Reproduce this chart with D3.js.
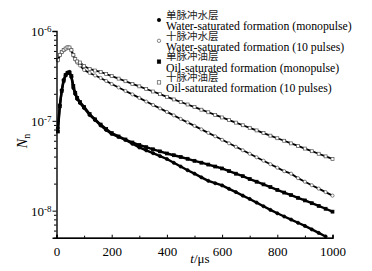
<!DOCTYPE html>
<html>
<head>
<meta charset="utf-8">
<script src="https://cdn.jsdelivr.net/npm/d3@7"></script>
<style>
body { margin:0; background:#fff; }
svg { display:block; }
.axis path, .axis line { stroke:#000; }
.axis text { font-family:"Liberation Serif","Times New Roman",serif; font-size:13px; fill:#000; }
</style>
</head>
<body>
<div id="chart"></div>
<script>
// time axis (us), same for all four curves
var times = [5,12,19,26,33,40,47,54,61,68,75,85,100,120,140,160,180,
  200,225,250,275,300,325,350,375,400,425,450,475,500,525,550,575,600,
  625,650,675,700,725,750,775,800,825,850,875,900,925,950,975,1000];

// 单脉冲水层 (filled circles)
var waterMono = [8.3e-8,1.50e-7,2.20e-7,2.85e-7,3.20e-7,3.45e-7,3.50e-7,3.08e-7,2.32e-7,1.99e-7,1.75e-7,1.58e-7,1.39e-7,1.16e-7,1.02e-7,8.88e-8,7.91e-8,
  7.14e-8,6.61e-8,6.12e-8,5.55e-8,5.05e-8,4.69e-8,4.36e-8,4.05e-8,3.76e-8,3.41e-8,3.10e-8,2.82e-8,2.58e-8,2.35e-8,2.15e-8,2.02e-8,1.91e-8,
  1.75e-8,1.61e-8,1.47e-8,1.35e-8,1.23e-8,1.12e-8,1.02e-8,9.35e-9,8.61e-9,7.96e-9,7.33e-9,6.76e-9,6.18e-9,5.65e-9,5.16e-9,null];

// 十脉冲水层 (open circles)
var water10 = [4.70e-7,5.35e-7,5.80e-7,6.10e-7,6.35e-7,6.55e-7,6.50e-7,6.05e-7,5.32e-7,4.80e-7,4.45e-7,4.13e-7,3.68e-7,3.41e-7,3.20e-7,3.00e-7,2.78e-7,
  2.57e-7,2.35e-7,2.15e-7,1.97e-7,1.80e-7,1.64e-7,1.50e-7,1.375e-7,1.257e-7,1.15e-7,1.05e-7,9.62e-8,8.79e-8,8.04e-8,7.35e-8,6.73e-8,6.15e-8,
  5.62e-8,5.14e-8,4.70e-8,4.30e-8,3.93e-8,3.60e-8,3.29e-8,3.01e-8,2.75e-8,2.58e-8,2.30e-8,2.10e-8,1.92e-8,1.76e-8,1.61e-8,1.47e-8];

// 单脉冲油层 (filled squares)
var oilMono = [7.6e-8,1.45e-7,2.15e-7,2.80e-7,3.25e-7,3.40e-7,3.45e-7,3.15e-7,2.45e-7,2.05e-7,1.80e-7,1.62e-7,1.43e-7,1.19e-7,1.04e-7,9.1e-8,8.1e-8,
  7.3e-8,6.7e-8,6.2e-8,5.74e-8,5.38e-8,5.09e-8,4.82e-8,4.57e-8,4.33e-8,4.14e-8,3.96e-8,3.78e-8,3.59e-8,3.42e-8,3.26e-8,3.10e-8,2.95e-8,
  2.76e-8,2.58e-8,2.42e-8,2.25e-8,2.10e-8,1.96e-8,1.83e-8,1.70e-8,1.59e-8,1.49e-8,1.39e-8,1.30e-8,1.21e-8,1.13e-8,1.05e-8,9.75e-9];

// 十脉冲油层 (open squares)
var oil10 = [4.75e-7,5.41e-7,5.84e-7,6.14e-7,6.38e-7,6.58e-7,6.55e-7,6.14e-7,5.41e-7,4.88e-7,4.58e-7,4.46e-7,4.08e-7,3.78e-7,3.63e-7,3.50e-7,3.32e-7,
  3.15e-7,2.95e-7,2.76e-7,2.58e-7,2.42e-7,2.26e-7,2.12e-7,1.98e-7,1.85e-7,1.73e-7,1.62e-7,1.52e-7,1.42e-7,1.33e-7,1.245e-7,1.165e-7,1.09e-7,
  1.02e-7,9.55e-8,8.93e-8,8.36e-8,7.82e-8,7.31e-8,6.84e-8,6.40e-8,6.00e-8,5.61e-8,5.25e-8,4.91e-8,4.59e-8,4.30e-8,4.02e-8,3.77e-8];

var xTicks = [0,200,400,600,800,1000];
var yTicks = [-8,-7,-6];   // exponents of the labelled decades

var legendCn = ["单脉冲水层","十脉冲水层","单脉冲油层","十脉冲油层"];
var legendEn = ["Water-saturated formation (monopulse)","Water-saturated formation (10 pulses)",
                "Oil-saturated formation (monopulse)","Oil-saturated formation (10 pulses)"];

// ----------------------- set up ------------------------
var W = 372, H = 271;
var margin = {top: 31, right: 39.5, bottom: 33.3, left: 56.5},
    width = W - margin.left - margin.right,
    height = H - margin.top - margin.bottom;

var svg = d3.select("#chart").append("svg")
    .attr("width", W).attr("height", H);
var g = svg.append("g")
    .attr("transform", "translate(" + margin.left + "," + margin.top + ")");

var x = d3.scaleLinear().domain([0, 1000]).range([0, width]);
var y = d3.scaleLog().domain([5e-9, 1e-6]).range([height, 0]);

var series = [
  {vals: waterMono, shape: "circle", fill: "#000", lw: 2.4},
  {vals: water10,   shape: "circle", fill: "#fff", lw: 1.8},
  {vals: oilMono,   shape: "square", fill: "#000", lw: 2.4},
  {vals: oil10,     shape: "square", fill: "#fff", lw: 1.8}
];

function drawMarker(sel, shape, fill, cx, cy, big) {
  if (shape == "circle") {
    sel.append("circle").attr("cx", cx).attr("cy", cy).attr("r", big ? 1.7 : 1.6)
      .attr("fill", fill).attr("stroke", fill == "#fff" ? "#555" : "#000").attr("stroke-width", 0.7);
  } else {
    var s = big ? 3.4 : 3;
    sel.append("rect").attr("x", cx - s/2).attr("y", cy - s/2).attr("width", s).attr("height", s)
      .attr("fill", fill).attr("stroke", fill == "#fff" ? "#555" : "#000").attr("stroke-width", 0.7);
  }
}

// ----------------------- curves ------------------------
var line = d3.line()
    .defined(function(d) { return d.v != null; })
    .x(function(d) { return x(d.t); })
    .y(function(d) { return y(d.v); });

series.forEach(function(s) {
  var pts = times.map(function(t, i) { return {t: t, v: s.vals[i]}; });
  g.append("path")
    .attr("d", line(pts))
    .attr("fill", "none")
    .attr("stroke", "#000")
    .attr("stroke-width", s.lw);
  var mk = g.append("g");
  pts.filter(function(d) { return d.v != null; }).forEach(function(d) {
    drawMarker(mk, s.shape, s.fill, x(d.t), y(d.v), false);
  });
});

// ----------------------- axes ------------------------
var xAxis = g.append("g").attr("class", "axis")
    .attr("transform", "translate(0," + height + ")")
    .call(d3.axisBottom(x).tickValues(xTicks).tickSize(-3).tickPadding(9).tickFormat(d3.format("d")));
g.append("g").attr("class", "axis")
    .attr("transform", "translate(0," + height + ")")
    .call(d3.axisBottom(x).tickValues([100,300,500,700,900]).tickSize(-2).tickFormat(""));
xAxis.select(".domain").attr("stroke-width", 1.4);

// minor y ticks
var minor = [];
for (var e = -9; e <= -7; e++) {
  for (var k = 2; k <= 9; k++) {
    var v = k * Math.pow(10, e);
    if (v >= 5e-9 && v <= 1e-6) minor.push(v);
  }
}
g.append("g").attr("class", "axis")
    .call(d3.axisLeft(y).tickValues(minor).tickSize(2.5).tickFormat(""))
    .select(".domain").remove();
var yAxis = g.append("g").attr("class", "axis")
    .call(d3.axisLeft(y).tickValues(yTicks.map(function(p) { return Math.pow(10, p); }))
          .tickSize(4).tickPadding(3).tickFormat(""));
yAxis.select(".domain").attr("stroke-width", 1.4);
yAxis.selectAll(".tick").each(function(d) {
  var t = d3.select(this).append("text")
      .attr("x", -5).attr("dy", "0.35em").attr("text-anchor", "end");
  t.append("tspan").text("10");
  t.append("tspan").attr("dy", "-0.45em").attr("font-size", "9px").text(Math.round(Math.log10(d)));
});

// axis titles
var xl = svg.append("text")
    .attr("x", 200).attr("y", 263)
    .attr("text-anchor", "middle")
    .style("font-family", "Liberation Serif, serif").style("font-size", "13px");
xl.append("tspan").style("font-style", "italic").text("t");
xl.append("tspan").text("/μs");

var yl = svg.append("text")
    .attr("transform", "translate(27,141) rotate(-90)")
    .attr("text-anchor", "middle")
    .style("font-family", "Liberation Serif, serif").style("font-size", "14px");
yl.append("tspan").style("font-style", "italic").text("N");
yl.append("tspan").attr("dy", "3").style("font-size", "10px").text("n");

// ----------------------- legend ------------------------
// english lines: size picked so the longest one ends near x=352
var probe = svg.append("text")
    .style("font-family", "Liberation Serif, serif").style("font-size", "12px")
    .text(legendEn[0]);
var enSize = Math.min(12.5, 12 * 186 / probe.node().getComputedTextLength());
probe.remove();

var leg = svg.append("g");
series.forEach(function(s, i) {
  var y0 = 15 + i * 20.8;
  drawMarker(leg, s.shape, s.fill, 159, y0 + 5, true);
  leg.append("text").attr("x", 166).attr("y", y0).attr("dy", "0.36em")
    .style("font-family", "Noto Sans CJK SC, sans-serif").style("font-size", "10.5px")
    .attr("fill", "#222").text(legendCn[i]);
  leg.append("text").attr("x", 166).attr("y", y0 + 11.3).attr("dy", "0.32em")
    .style("font-family", "Liberation Serif, serif").style("font-size", enSize + "px")
    .attr("fill", "#000").text(legendEn[i]);
});
</script>
</body>
</html>
